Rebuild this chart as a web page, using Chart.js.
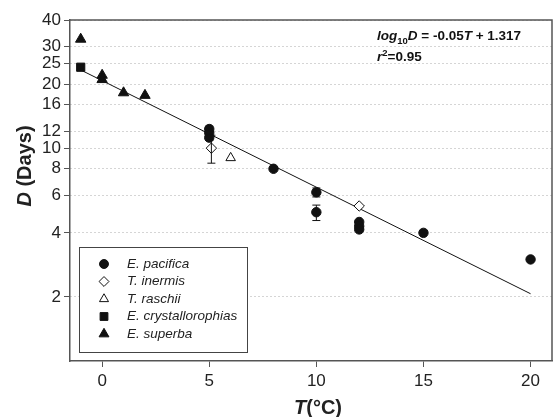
<!DOCTYPE html>
<html>
<head>
<meta charset="utf-8">
<script src="https://cdn.jsdelivr.net/npm/chart.js@4.4.1/dist/chart.umd.min.js"></script>
<style>
  html, body { margin: 0; padding: 0; background: #fff; }
  #wrap { width: 559px; height: 417px; }
</style>
</head>
<body>
<div id="wrap"><canvas id="graph" width="559" height="417"></canvas></div>
<script>
// values
const pacificaT = [5, 5, 5, 8, 10, 10, 12, 12, 12, 15, 20];
const pacificaD = [12.3, 11.8, 11.2, 8.0, 6.2, 5.0, 4.5, 4.3, 4.15, 4.0, 3.0];
const pacificaErr = [[12.0, 12.7], null, [10.9, 11.5], null, [5.9, 6.5], [4.57, 5.4], null, null, null, null, null];

const inermisT = [5.1, 12];
const inermisD = [10.0, 5.35];
const inermisErr = [[8.5, 11.5], null];

const raschiiT = [6];
const raschiiD = [9.0];

const crystT = [-1];
const crystD = [24];

const superbaT = [-1, 0, 0, 1, 2];
const superbaD = [32.5, 22, 21, 18.2, 17.7];

const fitT = [-1, 20];
const fitD = [23.3, 2.07];

const yTickVals = [2, 4, 6, 8, 10, 12, 16, 20, 25, 30, 40];
const xTickVals = [0, 5, 10, 15, 20];

const legendNames = ['E. pacifica', 'T. inermis', 'T. raschii', 'E. crystallorophias', 'E. superba'];

const FONT = '"Liberation Sans", Arial, Helvetica, sans-serif';

function pts(xs, ys) { return xs.map((x, i) => ({ x: x, y: ys[i] })); }

const markers = [
  { style: 'circle', radius: 4.7, fill: '#111' },
  { style: 'rectRot', radius: 5.2, fill: '#fff' },
  { style: 'triangle', radius: 5.5, fill: '#fff' },
  { style: 'rect', radius: 5.8, fill: '#111' },
  { style: 'triangle', radius: 6, fill: '#111' }
];

function scatterSet(i, xs, ys, err) {
  const m = markers[i];
  return {
    type: 'scatter',
    label: legendNames[i],
    data: pts(xs, ys),
    pointStyle: m.style,
    pointRadius: m.radius,
    pointBackgroundColor: m.fill,
    pointBorderColor: '#111',
    pointBorderWidth: 1,
    errBars: err || null,
    order: 1
  };
}

// draws mixed-font text pieces one after another
function drawRuns(c, x, y, runs) {
  let cx = x;
  runs.forEach(r => {
    c.font = r.font;
    c.fillText(r.text, cx, y + (r.dy || 0));
    cx += c.measureText(r.text).width;
  });
  return cx - x;
}
function runsWidth(c, runs) {
  let w = 0;
  runs.forEach(r => { c.font = r.font; w += c.measureText(r.text).width; });
  return w;
}

const extras = {
  id: 'extras',
  afterDatasetsDraw(chart) {
    const c = chart.ctx, xs = chart.scales.x, ys = chart.scales.y;
    c.save();
    c.strokeStyle = '#111';
    c.lineWidth = 1;
    chart.data.datasets.forEach(ds => {
      if (!ds.errBars) return;
      ds.data.forEach((p, i) => {
        const e = ds.errBars[i];
        if (!e) return;
        const px = xs.getPixelForValue(p.x);
        const lo = ys.getPixelForValue(e[0]);
        const hi = ys.getPixelForValue(e[1]);
        c.beginPath();
        c.moveTo(px, lo); c.lineTo(px, hi);
        c.moveTo(px - 4, lo); c.lineTo(px + 4, lo);
        c.moveTo(px - 4, hi); c.lineTo(px + 4, hi);
        c.stroke();
      });
    });
    c.restore();
  },
  afterDraw(chart) {
    const c = chart.ctx, a = chart.chartArea;
    c.save();
    // top and right frame
    c.strokeStyle = '#555';
    c.lineWidth = 1.5;
    c.beginPath();
    c.moveTo(a.left, a.top); c.lineTo(a.right, a.top); c.lineTo(a.right, a.bottom);
    c.stroke();

    // legend box
    c.fillStyle = '#fff';
    c.fillRect(79, 247, 168, 105);
    c.strokeStyle = '#444';
    c.lineWidth = 1;
    c.strokeRect(79.5, 247.5, 168, 105);
    c.textBaseline = 'middle';
    c.textAlign = 'left';
    legendNames.forEach((name, i) => {
      const y = 264 + i * 17.5;
      const m = markers[i];
      c.fillStyle = m.fill;
      c.strokeStyle = '#111';
      c.lineWidth = 1;
      c.beginPath();
      const x0 = 104, r = m.radius * 0.95;
      if (m.style === 'circle') {
        c.arc(x0, y, r, 0, Math.PI * 2);
      } else if (m.style === 'rectRot') {
        c.moveTo(x0, y - r); c.lineTo(x0 + r, y); c.lineTo(x0, y + r); c.lineTo(x0 - r, y);
      } else if (m.style === 'triangle') {
        c.moveTo(x0, y - r); c.lineTo(x0 + r * 0.866, y + r * 0.5); c.lineTo(x0 - r * 0.866, y + r * 0.5);
      } else {
        const s = r * Math.SQRT1_2;
        c.rect(x0 - s, y - s, 2 * s, 2 * s);
      }
      c.closePath();
      c.fill(); c.stroke();
      c.fillStyle = '#222';
      c.font = 'italic 13.5px ' + FONT;
      c.fillText(name, 127, y);
    });

    // regression annotation
    c.fillStyle = '#111';
    c.textBaseline = 'alphabetic';
    const bi = 'italic bold 13.5px ' + FONT, b = 'bold 13.5px ' + FONT, sm = 'bold 9.5px ' + FONT;
    drawRuns(c, 377, 40, [
      { text: 'log', font: bi }, { text: '10', font: sm, dy: 3.5 }, { text: 'D', font: bi },
      { text: ' = -0.05', font: b }, { text: 'T', font: bi }, { text: ' + 1.317', font: b }
    ]);
    drawRuns(c, 377, 61, [
      { text: 'r', font: bi }, { text: '2', font: sm, dy: -5 }, { text: '=0.95', font: b }
    ]);

    // axis titles with italic symbols
    c.fillStyle = '#222';
    const tb = 'bold 20px ' + FONT, tbi = 'italic bold 20px ' + FONT;
    const xRuns = [{ text: 'T', font: tbi }, { text: '(°C)', font: tb }];
    drawRuns(c, 318 - runsWidth(c, xRuns) / 2, 414, xRuns);
    const yRuns = [{ text: 'D', font: tbi }, { text: ' (Days)', font: tb }];
    c.translate(31, 166);
    c.rotate(-Math.PI / 2);
    drawRuns(c, -runsWidth(c, yRuns) / 2, 0, yRuns);
    c.restore();
  }
};

const ctx = document.getElementById('graph').getContext('2d');
const chart = new Chart(ctx, {
  data: {
    datasets: [
      {
        type: 'line',
        label: 'fit',
        data: pts(fitT, fitD),
        borderColor: '#111',
        borderWidth: 1,
        pointRadius: 0,
        fill: false,
        order: 2
      },
      scatterSet(0, pacificaT, pacificaD, pacificaErr),
      scatterSet(1, inermisT, inermisD, inermisErr),
      scatterSet(2, raschiiT, raschiiD),
      scatterSet(3, crystT, crystD),
      scatterSet(4, superbaT, superbaD)
    ]
  },
  options: {
    responsive: false,
    animation: false,
    layout: { padding: { top: 20, right: 3, left: 0, bottom: 0 } },
    plugins: { legend: { display: false }, tooltip: { enabled: false } },
    scales: {
      x: {
        type: 'linear',
        min: -1.5,
        max: 21,
        afterBuildTicks: s => { s.ticks = xTickVals.map(v => ({ value: v })); },
        afterFit: s => { s.height = 56; },
        grid: { drawOnChartArea: false, tickLength: 6, tickColor: '#555', tickWidth: 1 },
        border: { color: '#555', width: 1.5 },
        ticks: { color: '#222', padding: 4, font: { family: FONT, size: 17 } }
      },
      y: {
        type: 'logarithmic',
        min: 1,
        max: 40,
        afterBuildTicks: s => { s.ticks = yTickVals.map(v => ({ value: v })); },
        afterFit: s => { s.width = 70; },
        grid: {
          color: '#aaa',
          lineWidth: 1,
          tickLength: 6,
          tickColor: '#555',
          tickWidth: 1,
          tickBorderDash: []
        },
        border: { color: '#555', width: 1.5, dash: [1, 3] },
        ticks: {
          color: '#222',
          padding: 3,
          font: { family: FONT, size: 17 },
          callback: v => String(v)
        }
      }
    }
  },
  plugins: [extras]
});
</script>
</body>
</html>
